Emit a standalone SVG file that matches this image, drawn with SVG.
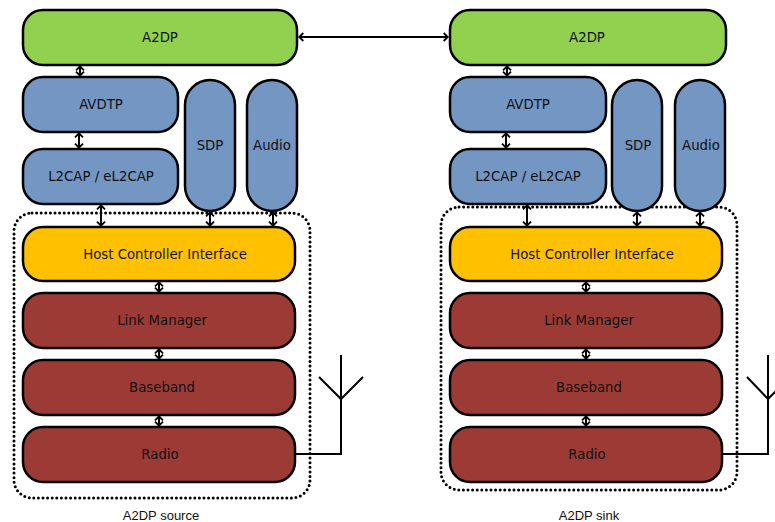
<svg xmlns="http://www.w3.org/2000/svg" width="775" height="522" viewBox="0 0 775 522">
<style>
.n{stroke:#000;stroke-width:2.5}
.g{fill:#92D050}
.b{fill:#7396C3}
.y{fill:#FFC000}
.r{fill:#9C3B36}
.t{font-family:"DejaVu Sans",Verdana,sans-serif;font-size:13.3px;fill:#111;text-anchor:middle;dominant-baseline:central}
.lab{font-family:"Liberation Sans",Arial,sans-serif;font-size:13px;fill:#111;text-anchor:middle}
.dot{fill:none;stroke:#000;stroke-width:3;stroke-linecap:round;stroke-dasharray:0 4.6}
.c{stroke:#000;stroke-width:2;fill:none}
.a{marker-start:url(#ah);marker-end:url(#ah)}
</style>
<defs>
<marker id="ah" viewBox="0 0 6 10" refX="5.3" refY="5" markerWidth="6" markerHeight="10" markerUnits="userSpaceOnUse" orient="auto-start-reverse">
<path d="M1,1 L5,5 L1,9" fill="none" stroke="#000" stroke-width="1.8"/>
</marker>
</defs>
<rect width="775" height="522" fill="#fff"/>
<g id="source-box"><rect class="dot" x="14" y="213" width="296" height="285" rx="18"/></g>
<g id="sink-box"><rect class="dot" x="441" y="207" width="296" height="283" rx="18"/></g>

<g id="src-a2dp"><rect class="n g" x="23" y="10" width="274" height="55" rx="20"/><text class="t" x="160" y="37.5">A2DP</text></g>
<g id="src-avdtp"><rect class="n b" x="23" y="77" width="155" height="55" rx="20"/><text class="t" x="101" y="104.5">AVDTP</text></g>
<g id="src-l2cap"><rect class="n b" x="23" y="149" width="155" height="55" rx="20"/><text class="t" x="101" y="176.5">L2CAP / eL2CAP</text></g>
<g id="src-sdp"><rect class="n b" x="185" y="80" width="50" height="131" rx="25"/><text class="t" x="210" y="145">SDP</text></g>
<g id="src-audio"><rect class="n b" x="247" y="80" width="50" height="131" rx="25"/><text class="t" x="272" y="145">Audio</text></g>
<g id="src-hci"><rect class="n y" x="23" y="227" width="272" height="54" rx="20"/><text class="t" x="165" y="254">Host Controller Interface</text></g>
<g id="src-lm"><rect class="n r" x="23" y="293" width="272" height="55" rx="20"/><text class="t" x="162" y="320.5">Link Manager</text></g>
<g id="src-bb"><rect class="n r" x="23" y="360" width="272" height="55" rx="20"/><text class="t" x="162" y="387.5">Baseband</text></g>
<g id="src-radio"><rect class="n r" x="23" y="427" width="272" height="55" rx="20"/><text class="t" x="160" y="454.5">Radio</text></g>

<g id="snk-a2dp"><rect class="n g" x="450" y="10" width="276" height="55" rx="20"/><text class="t" x="587" y="37.5">A2DP</text></g>
<g id="snk-avdtp"><rect class="n b" x="450" y="77" width="156" height="55" rx="20"/><text class="t" x="528" y="104.5">AVDTP</text></g>
<g id="snk-l2cap"><rect class="n b" x="450" y="149" width="156" height="55" rx="20"/><text class="t" x="528" y="176.5">L2CAP / eL2CAP</text></g>
<g id="snk-sdp"><rect class="n b" x="612" y="80" width="50" height="131" rx="25"/><text class="t" x="638" y="145">SDP</text></g>
<g id="snk-audio"><rect class="n b" x="675" y="80" width="50" height="131" rx="25"/><text class="t" x="701" y="145">Audio</text></g>
<g id="snk-hci"><rect class="n y" x="450" y="227" width="272" height="54" rx="20"/><text class="t" x="592" y="254">Host Controller Interface</text></g>
<g id="snk-lm"><rect class="n r" x="450" y="293" width="272" height="55" rx="20"/><text class="t" x="589" y="320.5">Link Manager</text></g>
<g id="snk-bb"><rect class="n r" x="450" y="360" width="272" height="55" rx="20"/><text class="t" x="589" y="387.5">Baseband</text></g>
<g id="snk-radio"><rect class="n r" x="450" y="427" width="272" height="55" rx="20"/><text class="t" x="587" y="454.5">Radio</text></g>

<g id="connectors">
<line class="c a" x1="299" y1="37" x2="448" y2="37"/>
<line class="c a" x1="80" y1="66" x2="80" y2="76"/>
<line class="c a" x1="79" y1="133" x2="79" y2="148"/>
<line class="c a" x1="101" y1="205" x2="101" y2="226"/>
<line class="c a" x1="210" y1="212" x2="210" y2="226"/>
<line class="c a" x1="273" y1="212" x2="273" y2="226"/>
<line class="c a" x1="159" y1="282" x2="159" y2="292"/>
<line class="c a" x1="159" y1="349" x2="159" y2="359"/>
<line class="c a" x1="159" y1="416" x2="159" y2="426"/>
<line class="c a" x1="507" y1="66" x2="507" y2="76"/>
<line class="c a" x1="506" y1="133" x2="506" y2="148"/>
<line class="c a" x1="527" y1="205" x2="527" y2="226"/>
<line class="c a" x1="637" y1="212" x2="637" y2="226"/>
<line class="c a" x1="700" y1="212" x2="700" y2="226"/>
<line class="c a" x1="586" y1="282" x2="586" y2="292"/>
<line class="c a" x1="586" y1="349" x2="586" y2="359"/>
<line class="c a" x1="586" y1="416" x2="586" y2="426"/>
<polyline class="c" points="296,454 341,454 341,355"/>
<polyline class="c" points="319,377 341,399 363,377"/>
<polyline class="c" points="723,454 768,454 768,355"/>
<polyline class="c" points="747,377 768,399 790,377"/>
</g>
<text class="lab" x="161" y="520">A2DP source</text>
<text class="lab" x="589" y="520">A2DP sink</text>
</svg>
